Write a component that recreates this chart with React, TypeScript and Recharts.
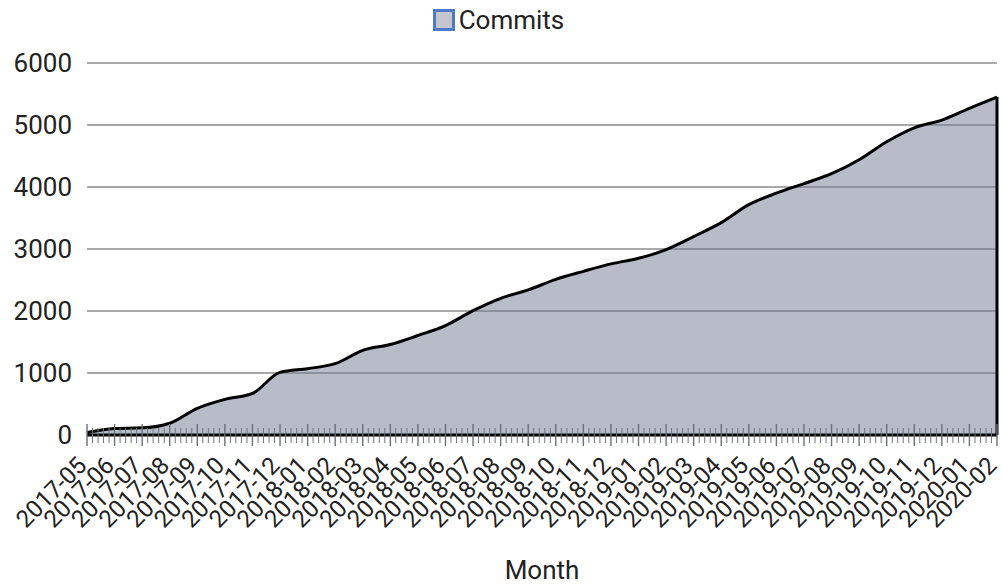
import React from "react";
import {
  AreaChart,
  Area,
  XAxis,
  YAxis,
  CartesianGrid,
  Legend,
  ReferenceLine,
} from "recharts";

const months = [
  "2017-05", "2017-06", "2017-07", "2017-08", "2017-09", "2017-10", "2017-11", "2017-12",
  "2018-01", "2018-02", "2018-03", "2018-04", "2018-05", "2018-06", "2018-07", "2018-08",
  "2018-09", "2018-10", "2018-11", "2018-12", "2019-01", "2019-02", "2019-03", "2019-04",
  "2019-05", "2019-06", "2019-07", "2019-08", "2019-09", "2019-10", "2019-11", "2019-12",
  "2020-01", "2020-02",
];

const commits = [
  40, 105, 115, 190, 430, 575, 670, 1010, 1070, 1150, 1365, 1460, 1605, 1765, 2005, 2205,
  2340, 2510, 2640, 2760, 2850, 2990, 3200, 3425, 3715, 3900, 4055, 4215, 4440, 4730, 4955,
  5080, 5270, 5450,
];

const yTicks = [0, 1000, 2000, 3000, 4000, 5000, 6000];

// 5 sub-steps per month, labels only on whole months
const SUB = 5;
const xTicks = Array.from({ length: (months.length - 1) * SUB + 1 }, (_, i) => i / SUB);

const data = months.map((m, i) => ({ idx: i, month: m, commits: commits[i] }));
const last = data[data.length - 1];

const FONT = "Roboto, 'Noto Sans', sans-serif";

function MonthTick(props: any) {
  const { x, y, payload } = props;
  const v = payload.value as number;
  const major = Math.abs(v - Math.round(v)) < 1e-6;
  if (!major) {
    return <line x1={x} x2={x} y1={y - 7} y2={y + 8} stroke="#6f747e" strokeWidth={1} />;
  }
  const tx = x + 1;
  const ty = y + 32;
  return (
    <g>
      <line x1={x} x2={x} y1={y - 11} y2={y + 11} stroke="#6a6f79" strokeWidth={1.4} />
      <text
        x={tx}
        y={ty}
        textAnchor="end"
        fontSize={24}
        fontFamily={FONT}
        fill="#222"
        transform={`rotate(-45 ${tx} ${ty})`}
      >
        {months[Math.round(v)]}
      </text>
    </g>
  );
}

function LegendBox() {
  return (
    <div
      style={{
        display: "flex",
        justifyContent: "center",
        alignItems: "center",
        fontFamily: FONT,
        fontSize: 26,
        color: "#222",
        lineHeight: "30px",
      }}
    >
      <span
        style={{
          display: "inline-block",
          width: 16,
          height: 16,
          border: "3px solid #4f79cc",
          background: "#c3c6cd",
          marginRight: 4,
        }}
      />
      Commits
    </div>
  );
}

export default function App() {
  return (
    <div style={{ position: "absolute", left: 0, top: 0, width: 1002, height: 587, background: "#fff" }}>
      <AreaChart
        width={1002}
        height={587}
        data={data}
        margin={{ top: 33, right: 5, left: 0, bottom: 0 }}
      >
        <Legend verticalAlign="top" align="center" content={() => <LegendBox />} wrapperStyle={{ top: 5 }} />
        <CartesianGrid vertical={false} stroke="#a9a9a9" strokeWidth={2} />
        <Area
          type="monotone"
          dataKey="commits"
          stroke="#000"
          strokeWidth={3}
          fill="#6f7a91"
          fillOpacity={0.5}
          isAnimationActive={false}
          dot={false}
          activeDot={false}
        />
        <ReferenceLine
          segment={[
            { x: last.idx, y: 0 },
            { x: last.idx, y: last.commits },
          ]}
          stroke="#000"
          strokeWidth={3}
        />
        <XAxis
          dataKey="idx"
          type="number"
          domain={[0, months.length - 1]}
          ticks={xTicks}
          interval={0}
          tick={<MonthTick />}
          tickLine={false}
          tickSize={0}
          tickMargin={0}
          axisLine={{ stroke: "#000", strokeWidth: 3 }}
          height={152}
          label={{
            value: "Month",
            position: "insideBottom",
            offset: 8,
            fontSize: 26,
            fontFamily: FONT,
            fill: "#222",
          }}
        />
        <YAxis
          domain={[0, 6000]}
          ticks={yTicks}
          width={87}
          axisLine={false}
          tickLine={false}
          tickMargin={9}
          tick={{ fontSize: 26, fontFamily: FONT, fill: "#222" }}
        />
      </AreaChart>
    </div>
  );
}
